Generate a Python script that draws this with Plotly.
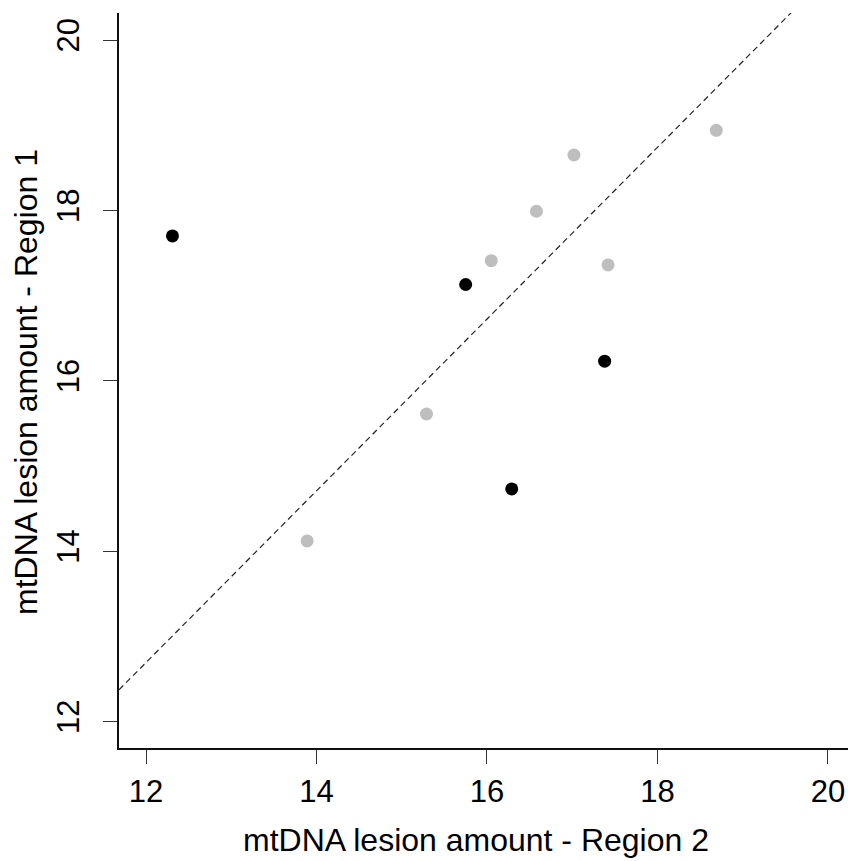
import plotly.graph_objects as go

# Data
black_x = [12.31, 15.75, 17.38, 16.29]
black_y = [17.70, 17.13, 16.23, 14.73]
gray_x = [13.89, 15.29, 16.05, 16.58, 17.02, 17.42, 18.69]
gray_y = [14.12, 15.61, 17.41, 17.99, 18.65, 17.36, 18.94]
line_intercept = 0.596
line_slope = 1.008
tick_vals = [12, 14, 16, 18, 20]
x_title = "mtDNA lesion amount - Region 2"
y_title = "mtDNA lesion amount - Region 1"

x_range = [11.683, 20.235]
y_range = [11.689, 20.317]

FONT = "Arial, Liberation Sans, sans-serif"

fig = go.Figure()
fig.add_trace(go.Scatter(
    x=x_range,
    y=[line_intercept + line_slope * v for v in x_range],
    mode="lines",
    line=dict(color="#222222", width=1.2, dash="6px,4px"),
    hoverinfo="skip", showlegend=False,
))
fig.add_trace(go.Scatter(
    x=gray_x, y=gray_y, mode="markers",
    marker=dict(color="#bebebe", size=13, line=dict(width=0)),
    showlegend=False,
))
fig.add_trace(go.Scatter(
    x=black_x, y=black_y, mode="markers",
    marker=dict(color="#000000", size=13, line=dict(width=0)),
    showlegend=False,
))

axis_common = dict(
    showgrid=False, zeroline=False, showline=True, linecolor="#111111", linewidth=1.6,
    ticks="outside", ticklen=14, tickwidth=1.3, tickcolor="#333333",
    tickvals=tick_vals, tickfont=dict(family=FONT, size=31, color="#000000"),
)

fig.update_layout(
    width=848, height=861,
    margin=dict(l=119, r=0, t=13, b=113),
    paper_bgcolor="white", plot_bgcolor="white",
    xaxis=dict(range=x_range, ticklabelstandoff=1, **axis_common),
    yaxis=dict(range=y_range, tickangle=-90, ticklabelstandoff=12, **axis_common),
    annotations=[
        dict(text=x_title, xref="paper", yref="paper", x=(475.5 - 119) / 729, y=-(840 - 748) / 735,
             xanchor="center", yanchor="middle", showarrow=False,
             font=dict(family=FONT, size=32, color="#000000")),
        dict(text=y_title, xref="paper", yref="paper", x=-(119 - 26) / 729, y=(748 - 382) / 735,
             xanchor="center", yanchor="middle", showarrow=False, textangle=-90,
             font=dict(family=FONT, size=32, color="#000000")),
    ],
)

fig.write_html("out.html")
